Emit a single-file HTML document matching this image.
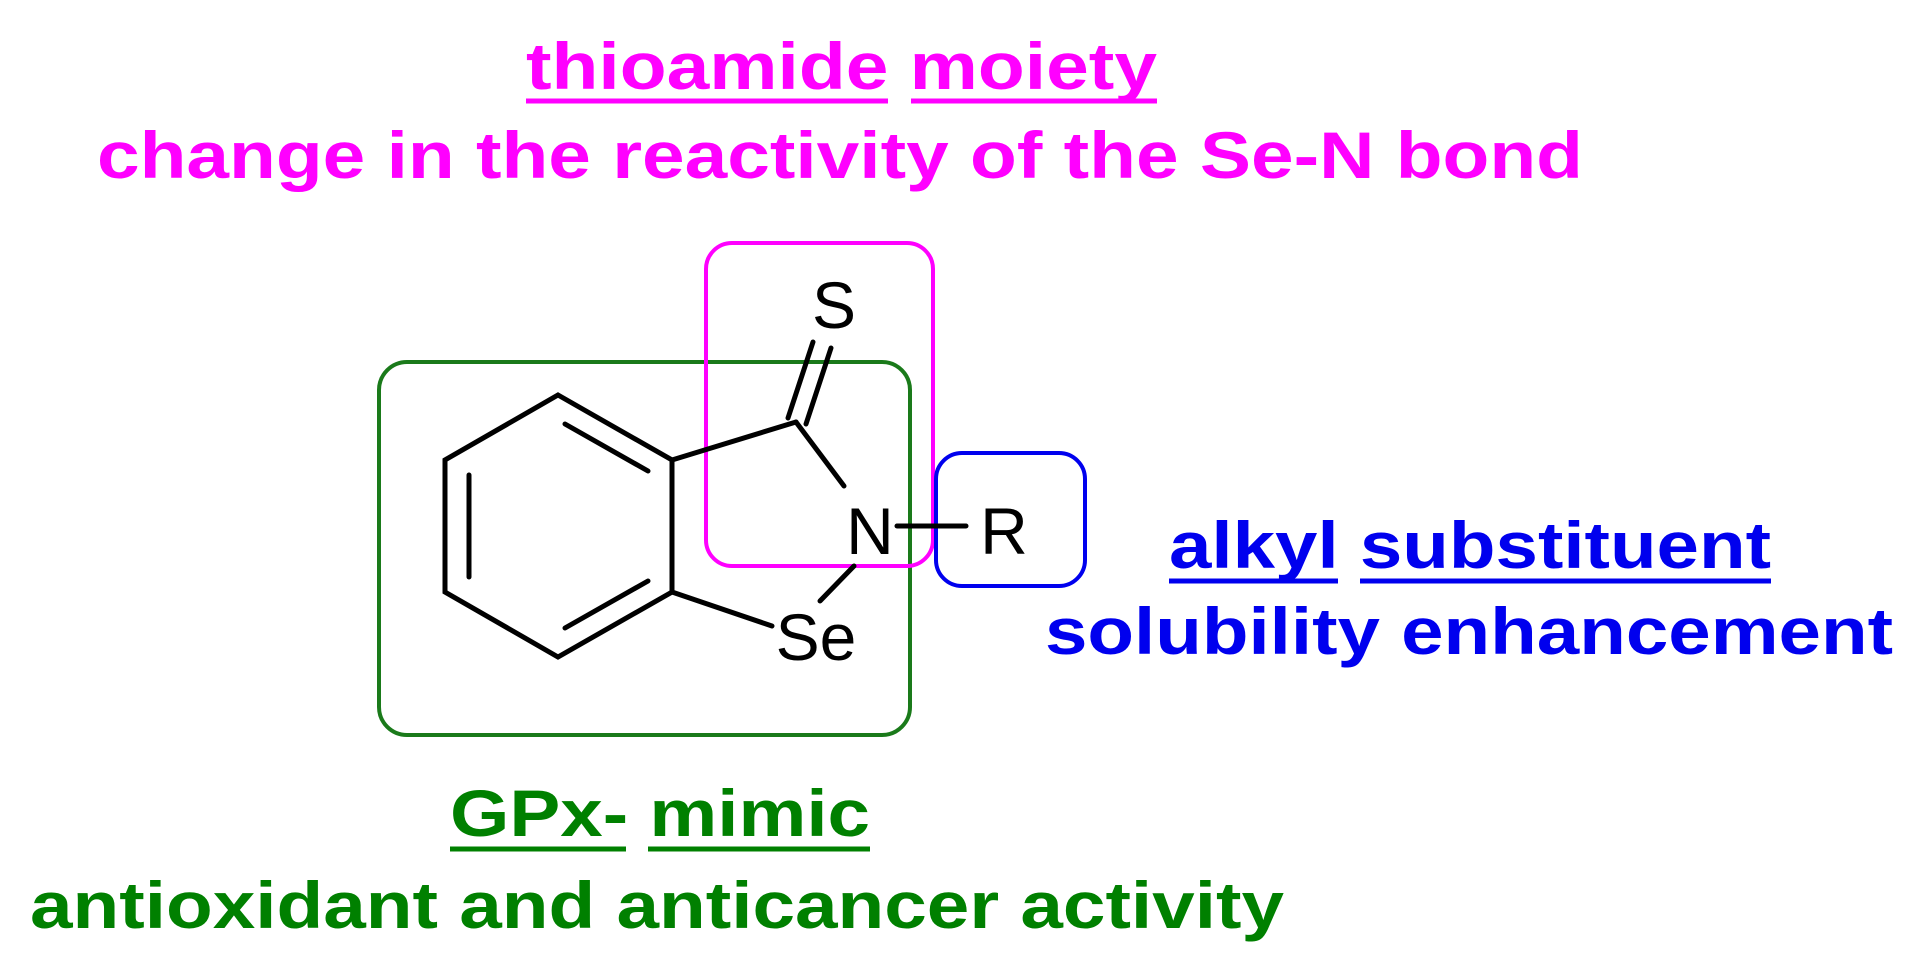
<!DOCTYPE html>
<html><head><meta charset="utf-8"><style>html,body{margin:0;padding:0;background:#fff}svg{display:block}</style></head>
<body>
<svg width="1905" height="968" viewBox="0 0 1905 968" xmlns="http://www.w3.org/2000/svg" font-family="Liberation Sans, Arial, sans-serif">
<g font-weight="bold" font-size="66">
<text x="526" y="89" fill="#ff00ff" textLength="631" lengthAdjust="spacingAndGlyphs">thioamide moiety</text>
<text x="97" y="178" fill="#ff00ff" textLength="1486" lengthAdjust="spacingAndGlyphs">change in the reactivity of the Se-N bond</text>
<text x="1169" y="568" fill="#0000ee" textLength="602" lengthAdjust="spacingAndGlyphs">alkyl substituent</text>
<text x="1045" y="654" fill="#0000ee" textLength="848" lengthAdjust="spacingAndGlyphs">solubility enhancement</text>
<text x="450" y="836" fill="#008000" textLength="420" lengthAdjust="spacingAndGlyphs">GPx- mimic</text>
<text x="30" y="928" fill="#008000" textLength="1254" lengthAdjust="spacingAndGlyphs">antioxidant and anticancer activity</text>
</g>
<g stroke-width="5">
<line x1="526" y1="101" x2="888" y2="101" stroke="#ff00ff"/>
<line x1="911" y1="101" x2="1157" y2="101" stroke="#ff00ff"/>
<line x1="1169" y1="581" x2="1338" y2="581" stroke="#0000ee"/>
<line x1="1360" y1="581" x2="1771" y2="581" stroke="#0000ee"/>
<line x1="450" y1="849" x2="626" y2="849" stroke="#008000"/>
<line x1="648" y1="849" x2="870" y2="849" stroke="#008000"/>
</g>
<rect x="379" y="362" width="531" height="373" rx="28" fill="none" stroke="#1a7a1a" stroke-width="4"/>
<rect x="706" y="243" width="227" height="323" rx="26" fill="none" stroke="#ff00ff" stroke-width="4"/>
<rect x="936" y="453" width="149" height="133" rx="26" fill="none" stroke="#0000ee" stroke-width="4"/>
<g stroke="#000" stroke-width="5" fill="none" stroke-linecap="round">
<polygon points="558,395 672,460 672,592 558,657 445,592 445,460"/>
<line x1="469" y1="475" x2="469" y2="577"/>
<line x1="565" y1="424" x2="648" y2="471"/>
<line x1="565" y1="628" x2="648" y2="581"/>
<line x1="672" y1="460" x2="796" y2="422"/>
<line x1="796" y1="422" x2="844" y2="486"/>
<line x1="854" y1="566" x2="820" y2="601"/>
<line x1="672" y1="592" x2="772" y2="626"/>
<line x1="897" y1="526" x2="966" y2="526"/>
<line x1="788" y1="418" x2="813" y2="342"/>
<line x1="806" y1="424" x2="831" y2="348"/>
</g>
<g font-size="66" fill="#000" text-anchor="middle">
<text x="834" y="328">S</text>
<text x="870" y="554">N</text>
<text x="1004" y="554">R</text>
<text x="816" y="660">Se</text>
</g>
</svg>
</body></html>
